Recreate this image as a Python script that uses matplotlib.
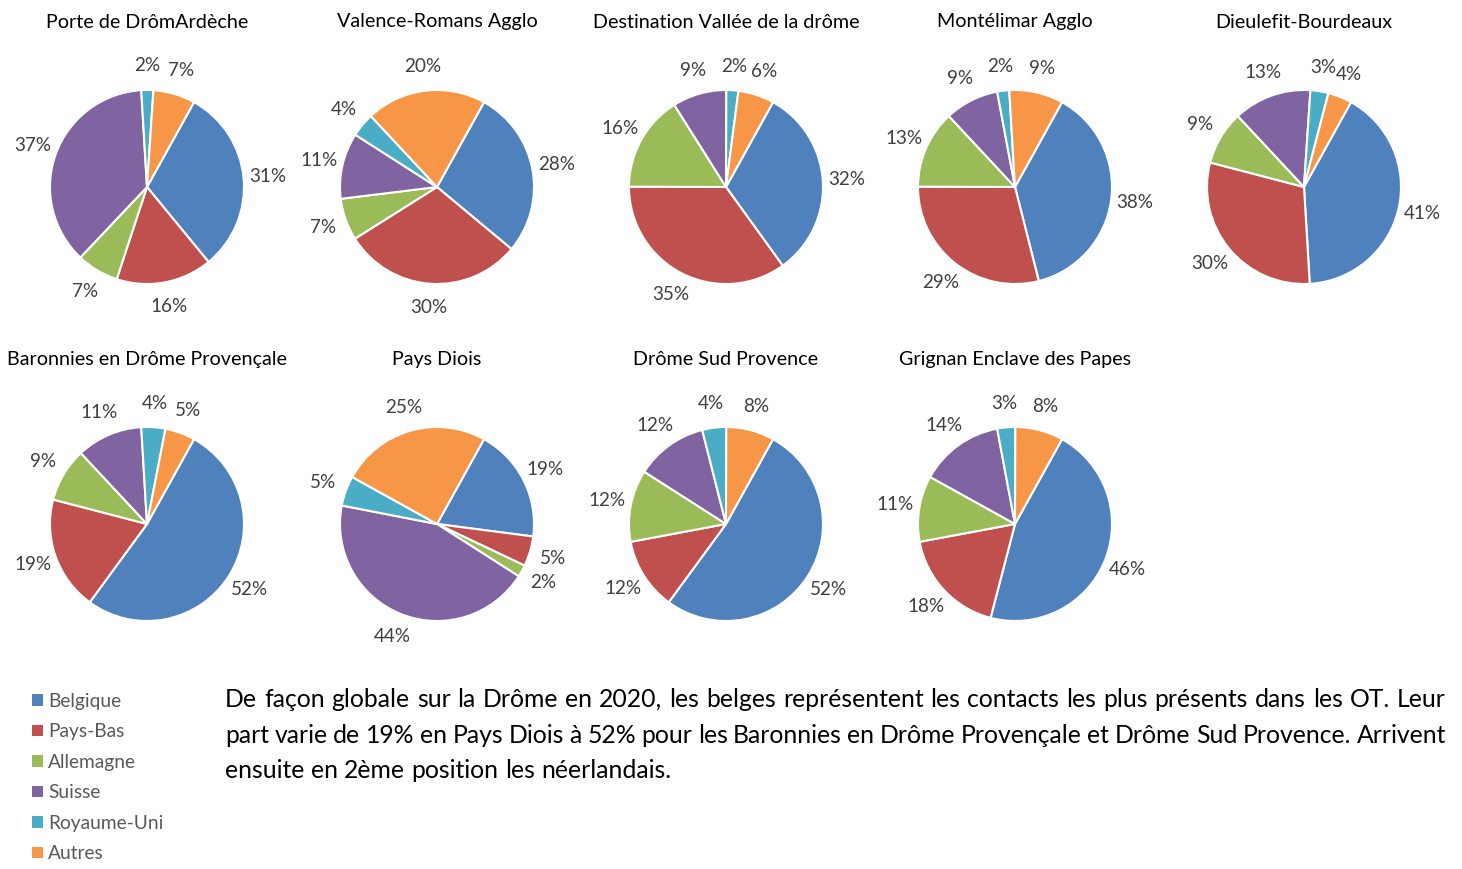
import matplotlib
matplotlib.use("Agg")
import matplotlib.pyplot as plt
from matplotlib.patches import Patch

plt.rcParams['font.family'] = ['Lato', 'DejaVu Sans']

# data
pays = ["Belgique", "Pays-Bas", "Allemagne", "Suisse", "Royaume-Uni", "Autres"]
couleurs = ["#4F81BD", "#C0504D", "#9BBB59", "#8064A2", "#4BACC6", "#F79646"]

territoires = ["Porte de DrômArdèche", "Valence-Romans Agglo", "Destination Vallée de la drôme",
               "Montélimar Agglo", "Dieulefit-Bourdeaux", "Baronnies en Drôme Provençale",
               "Pays Diois", "Drôme Sud Provence", "Grignan Enclave des Papes"]

porte = [31, 16, 7, 37, 2, 7]
valence = [28, 30, 7, 11, 4, 20]
vallee = [32, 35, 16, 9, 2, 6]
montelimar = [38, 29, 13, 9, 2, 9]
dieulefit = [41, 30, 9, 13, 3, 4]
baronnies = [52, 19, 9, 11, 4, 5]
diois = [19, 5, 2, 44, 5, 25]
sud = [52, 12, 12, 12, 4, 8]
grignan = [46, 18, 11, 14, 3, 8]
valeurs = [porte, valence, vallee, montelimar, dieulefit, baronnies, diois, sud, grignan]

texte = ["De façon globale sur la Drôme en 2020, les belges représentent les contacts les plus présents dans les OT. Leur",
         "part varie de 19% en Pays Diois à 52% pour les Baronnies en Drôme Provençale et Drôme Sud Provence. Arrivent",
         "ensuite en 2ème position les néerlandais."]

W, H = 1462, 869
fig = plt.figure(figsize=(W / 100, H / 100), dpi=100)

# pie centres in pixels
xs = [147, 437, 726, 1015, 1304]
centres = [(x, 187) for x in xs] + [(x, 524) for x in xs[:4]]
R = 97
M = 1.05

for nom, vals, (cx, cy) in zip(territoires, valeurs, centres):
    ax = fig.add_axes([(cx - R * M) / W, 1 - (cy + R * M) / H, 2 * R * M / W, 2 * R * M / H])
    wedges, labels = ax.pie(vals, colors=couleurs, startangle=61, counterclock=False,
                            labels=[f"{v}%" for v in vals], labeldistance=1.25,
                            wedgeprops=dict(edgecolor="white", linewidth=1.5),
                            textprops=dict(fontsize=13.6, color="#404040"))
    for t in labels:
        t.set_ha("center")
    ax.set_xlim(-M, M)
    ax.set_ylim(-M, M)
    ax.set_aspect("equal")
    ty = 22 if cy < 300 else 360
    fig.text(cx / W, 1 - ty / H, nom, ha="center", va="center", fontsize=14.2, color="#000000")

# legend
handles = [Patch(facecolor=c, edgecolor="none") for c in couleurs]
fig.legend(handles, pays, loc="upper left", bbox_to_anchor=(32 / W, 1 - 693 / H),
           frameon=False, fontsize=13.8, labelcolor="#595959", handlelength=0.55,
           handleheight=0.55, handletextpad=0.3, labelspacing=0.7, borderaxespad=0,
           borderpad=0)

# justified paragraph
renderer = fig.canvas.get_renderer()
x0, x1 = 225, 1446
ys = [707, 743, 778]
fs = 17.8
for i, (ligne, y) in enumerate(zip(texte, ys)):
    mots = ligne.split(" ")
    ts = [fig.text(0, 1 - y / H, m, fontsize=fs, va="baseline", color="#000000") for m in mots]
    largeurs = [t.get_window_extent(renderer).width for t in ts]
    if i < len(texte) - 1:
        gap = (x1 - x0 - sum(largeurs)) / (len(mots) - 1)
    else:
        sp = fig.text(0, 0, "a a", fontsize=fs)
        sp2 = fig.text(0, 0, "aa", fontsize=fs)
        gap = sp.get_window_extent(renderer).width - sp2.get_window_extent(renderer).width
        sp.remove()
        sp2.remove()
    x = x0
    for t, w in zip(ts, largeurs):
        t.set_x(x / W)
        x += w + gap

fig.savefig("out.png", dpi=100)
